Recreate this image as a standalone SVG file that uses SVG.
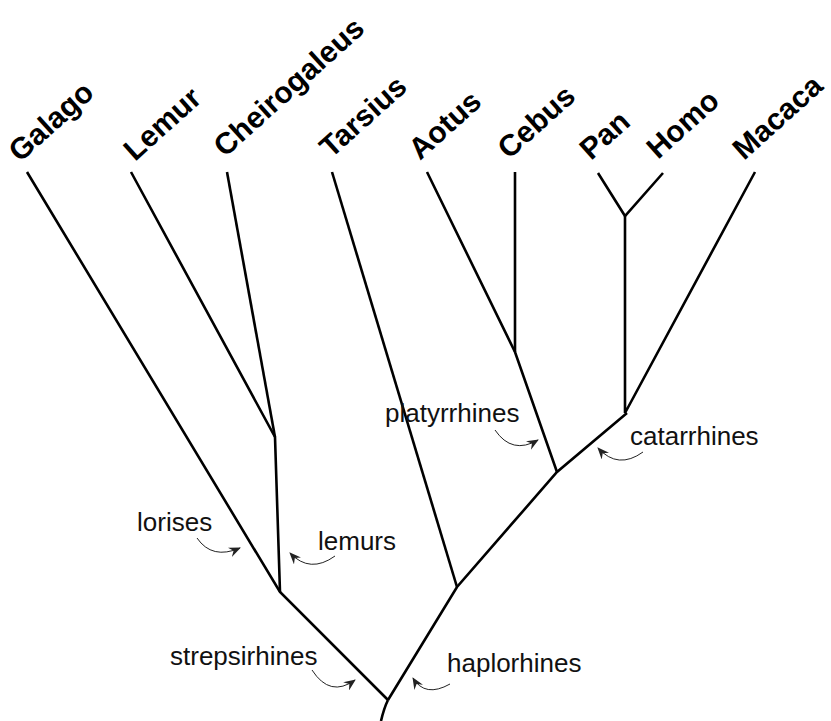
<svg xmlns="http://www.w3.org/2000/svg" width="831" height="721" viewBox="0 0 831 721">
<style>
.br{fill:none;stroke:#000;stroke-width:2.6;stroke-linejoin:miter;stroke-linecap:butt}
.ar{fill:none;stroke:#222;stroke-width:1}
.tx{font-family:"Liberation Sans",Arial,sans-serif;font-weight:bold;font-size:30px;fill:#000}
.lb{font-family:"Liberation Sans",Arial,sans-serif;font-size:26px;fill:#111}
</style>
<defs>
<marker id="ah" viewBox="0 0 12 10" refX="11" refY="5" markerWidth="12" markerHeight="10" markerUnits="userSpaceOnUse" orient="auto">
<path d="M0,0 L12,5 L0,10 L4,5 Z" fill="#222"/>
</marker>
</defs>
<g id="connectors">
<path class="br" d="M27,172 L280,592 L388,700"/>
<path class="br" d="M131,172 L275,437 L280,592"/>
<path class="br" d="M227,172 L275,437"/>
<path class="br" d="M332,172 L457,587"/>
<path class="br" d="M388,700 L457,587 L557,472 L627,413"/>
<path class="br" d="M427,172 L515,352 L557,472"/>
<path class="br" d="M515,172 L515,352"/>
<path class="br" d="M598,173 L625,216 L663,173"/>
<path class="br" d="M625,216 L625,413 L755,172"/>
<path class="br" d="M388,700 Q384,708 381,721"/>
<path class="ar" marker-end="url(#ah)" d="M197,538 Q212,560 240,548"/>
<path class="ar" marker-end="url(#ah)" d="M335,556 Q310,574 290,553"/>
<path class="ar" marker-end="url(#ah)" d="M312,670 Q330,698 355,680"/>
<path class="ar" marker-end="url(#ah)" d="M450,684 Q425,698 413,678"/>
<path class="ar" marker-end="url(#ah)" d="M495,430 Q512,455 538,440"/>
<path class="ar" marker-end="url(#ah)" d="M643,452 Q618,470 598,448"/>
</g>
<g id="taxa">
<text id="galago" class="tx" transform="translate(20,163) rotate(-42)">Galago</text>
<text id="lemur" class="tx" transform="translate(135,162) rotate(-42)">Lemur</text>
<text id="cheirogaleus" class="tx" transform="translate(225,158) rotate(-42)">Cheirogaleus</text>
<text id="tarsius" class="tx" transform="translate(331,159) rotate(-42)">Tarsius</text>
<text id="aotus" class="tx" transform="translate(420,161) rotate(-42)">Aotus</text>
<text id="cebus" class="tx" transform="translate(509,160) rotate(-42)">Cebus</text>
<text id="pan" class="tx" transform="translate(591,161) rotate(-42)">Pan</text>
<text id="homo" class="tx" transform="translate(658,160) rotate(-42)">Homo</text>
<text id="macaca" class="tx" transform="translate(744,161) rotate(-42)">Macaca</text>
</g>
<g id="clades">
<text id="lorises" class="lb" x="137" y="531">lorises</text>
<text id="lemurs" class="lb" x="318" y="550">lemurs</text>
<text id="strepsirhines" class="lb" x="170" y="665">strepsirhines</text>
<text id="haplorhines" class="lb" x="447" y="672">haplorhines</text>
<text id="platyrrhines" class="lb" x="385" y="422">platyrrhines</text>
<text id="catarrhines" class="lb" x="630" y="445">catarrhines</text>
</g>
</svg>
